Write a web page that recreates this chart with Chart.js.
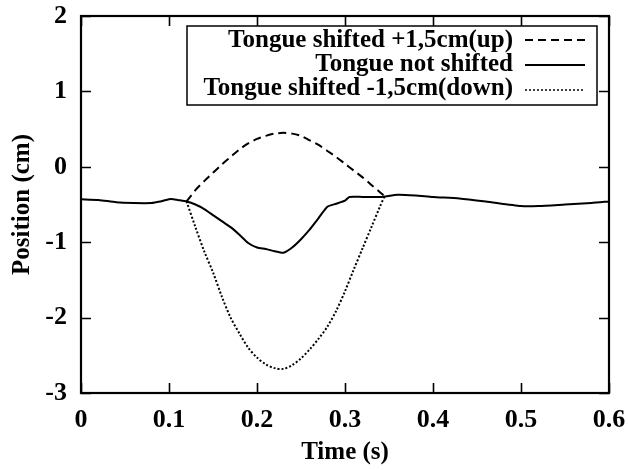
<!DOCTYPE html>
<html>
<head>
<meta charset="utf-8">
<script src="https://cdn.jsdelivr.net/npm/chart.js@4/dist/chart.umd.min.js"></script>
<style>
html,body{margin:0;padding:0;background:#fff;}
#wrap{width:629px;height:470px;}
</style>
</head>
<body>
<div id="wrap"><canvas id="c" width="629" height="470"></canvas></div>
<script>
// ---- data ----
const seriesLabels = ['Tongue shifted +1,5cm(up)', 'Tongue not shifted', 'Tongue shifted -1,5cm(down)'];
const xTicks = [0, 0.1, 0.2, 0.3, 0.4, 0.5, 0.6];
const xTickLabels = ['0', '0.1', '0.2', '0.3', '0.4', '0.5', '0.6'];
const yTicks = [-3, -2, -1, 0, 1, 2];
const yTickLabels = ['-3', '-2', '-1', '0', '1', '2'];

const upT = [0.12,0.13,0.14,0.15,0.16,0.17,0.18,0.19,0.20,0.21,0.22,0.23,0.24,0.25,0.26,0.27,0.28,0.29,0.30,0.31,0.32,0.33,0.34,0.345];
const upY = [-0.46,-0.31,-0.19,-0.08,0.03,0.13,0.23,0.31,0.37,0.41,0.44,0.45,0.44,0.41,0.35,0.29,0.21,0.13,0.04,-0.05,-0.14,-0.24,-0.34,-0.39];

const midT = [0,0.02,0.04,0.06,0.08,0.09,0.10,0.105,0.11,0.12,0.13,0.14,0.15,0.16,0.17,0.18,0.19,0.20,0.21,0.22,0.23,0.24,0.25,0.26,0.27,0.28,0.29,0.30,0.305,0.32,0.34,0.36,0.38,0.40,0.43,0.46,0.50,0.52,0.55,0.58,0.60];
const midY = [-0.43,-0.44,-0.47,-0.48,-0.48,-0.46,-0.43,-0.43,-0.44,-0.46,-0.50,-0.56,-0.64,-0.72,-0.80,-0.90,-1.01,-1.07,-1.09,-1.12,-1.14,-1.07,-0.96,-0.83,-0.68,-0.53,-0.49,-0.45,-0.40,-0.40,-0.40,-0.37,-0.38,-0.40,-0.42,-0.46,-0.52,-0.52,-0.50,-0.48,-0.46];

const downT = [0.12,0.13,0.14,0.15,0.16,0.17,0.18,0.19,0.20,0.21,0.22,0.23,0.24,0.25,0.26,0.27,0.28,0.29,0.30,0.31,0.32,0.33,0.34,0.345];
const downY = [-0.46,-0.80,-1.12,-1.40,-1.72,-2.00,-2.21,-2.40,-2.53,-2.62,-2.67,-2.68,-2.63,-2.54,-2.42,-2.28,-2.12,-1.91,-1.65,-1.36,-1.08,-0.80,-0.52,-0.39];

const pts = (t, y) => t.map((v, i) => ({x: v, y: y[i]}));

const SERIF = '"Liberation Serif", "Times New Roman", serif';

const framePlugin = {
  id: 'frame',
  afterDatasetsDraw(chart) {
    const {ctx, chartArea: a, scales} = chart;
    ctx.save();
    ctx.strokeStyle = '#000';
    ctx.lineWidth = 1.6;
    const L = 10;
    ctx.beginPath();
    scales.x.ticks.forEach(t => {
      const px = Math.round(scales.x.getPixelForValue(t.value)) + 0.5;
      ctx.moveTo(px, a.bottom); ctx.lineTo(px, a.bottom - L);
      ctx.moveTo(px, a.top); ctx.lineTo(px, a.top + L);
    });
    scales.y.ticks.forEach(t => {
      const py = Math.round(scales.y.getPixelForValue(t.value)) + 0.5;
      ctx.moveTo(a.left, py); ctx.lineTo(a.left + L, py);
      ctx.moveTo(a.right, py); ctx.lineTo(a.right - L, py);
    });
    ctx.stroke();
    ctx.lineWidth = 2.2;
    ctx.strokeRect(a.left, a.top, a.right - a.left, a.bottom - a.top);

    // legend box
    const bx0 = a.left + 106, bx1 = a.right - 12, by0 = a.top + 10, by1 = a.top + 89;
    ctx.fillStyle = '#fff';
    ctx.fillRect(bx0, by0, bx1 - bx0, by1 - by0);
    ctx.lineWidth = 1.5;
    ctx.strokeRect(bx0, by0, bx1 - bx0, by1 - by0);
    ctx.font = 'bold 25px ' + SERIF;
    ctx.fillStyle = '#000';
    ctx.textAlign = 'right';
    ctx.textBaseline = 'alphabetic';
    chart.data.datasets.forEach((ds, i) => {
      const base = by0 + 21 + i * 24;
      const cy = by0 + 14 + i * 25;
      ctx.fillText(ds.label, bx1 - 84, base);
      ctx.beginPath();
      ctx.setLineDash(ds.borderDash || []);
      ctx.lineWidth = ds.borderDash && ds.borderDash[0] < 3 ? 1.5 : 2;
      ctx.moveTo(bx1 - 72, cy); ctx.lineTo(bx1 - 12, cy);
      ctx.stroke();
      ctx.setLineDash([]);
    });
    ctx.restore();
  }
};

new Chart(document.getElementById('c'), {
  type: 'line',
  data: {
    datasets: [
      {label: seriesLabels[0], data: pts(upT, upY), borderColor: '#000', borderWidth: 2, borderDash: [8, 5], pointRadius: 0, tension: 0.3, fill: false},
      {label: seriesLabels[1], data: pts(midT, midY), borderColor: '#000', borderWidth: 2, pointRadius: 0, tension: 0.2, fill: false},
      {label: seriesLabels[2], data: pts(downT, downY), borderColor: '#000', borderWidth: 2, borderDash: [2, 2], pointRadius: 0, tension: 0.3, fill: false}
    ]
  },
  options: {
    responsive: false,
    animation: false,
    layout: {padding: {left: 0, right: 20, top: 16, bottom: 0}},
    plugins: {legend: {display: false}, tooltip: {enabled: false}},
    scales: {
      x: {
        type: 'linear', min: 0, max: 0.6,
        afterBuildTicks: s => { s.ticks = xTicks.map(v => ({value: v})); },
        afterFit: s => { s.height = 77; s.paddingLeft = 0; s.paddingRight = 0; },
        grid: {display: false, drawTicks: false},
        border: {display: false},
        ticks: {
          color: '#000', padding: 12, maxRotation: 0, autoSkip: false,
          font: {family: SERIF, size: 26, weight: 'bold'},
          callback: (v) => xTickLabels[xTicks.indexOf(v)]
        },
        title: {display: true, text: 'Time (s)', color: '#000', padding: {top: 12, bottom: 2},
          font: {family: SERIF, size: 25, weight: 'bold'}}
      },
      y: {
        type: 'linear', min: -3, max: 2,
        afterBuildTicks: s => { s.ticks = yTicks.map(v => ({value: v})); },
        afterFit: s => { s.width = 81; s.paddingTop = 0; s.paddingBottom = 0; },
        grid: {display: false, drawTicks: false},
        border: {display: false},
        ticks: {
          color: '#000', padding: 14, autoSkip: false,
          font: {family: SERIF, size: 26, weight: 'bold'},
          callback: (v) => yTickLabels[yTicks.indexOf(v)]
        },
        title: {display: true, text: 'Position (cm)', color: '#000', padding: {top: 8, bottom: 0},
          font: {family: SERIF, size: 25, weight: 'bold'}}
      }
    }
  },
  plugins: [framePlugin]
});
</script>
</body>
</html>
